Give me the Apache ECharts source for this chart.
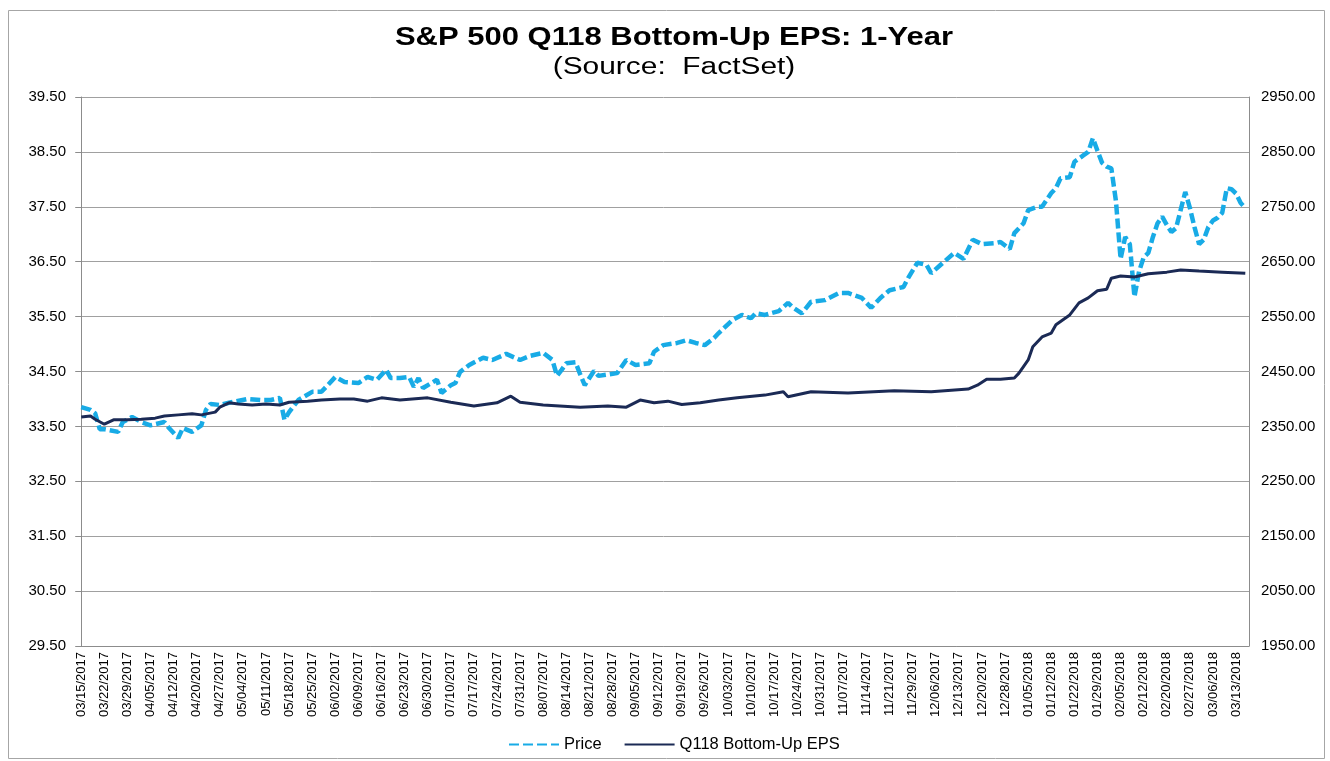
<!DOCTYPE html>
<html>
<head>
<meta charset="utf-8">
<title>S&P 500 Q118 Bottom-Up EPS: 1-Year</title>
<script src="https://cdn.jsdelivr.net/npm/echarts@6/dist/echarts.min.js"></script>
<style>
    html, body { margin: 0; padding: 0; background: #fff; }
    #chart { width: 1330px; height: 761px; }
</style>
</head>
<body>
<div id="chart"></div>
<script>
// x axis labels: every 5th trading day
const weekLabels = [
    '03/15/2017', '03/22/2017', '03/29/2017', '04/05/2017', '04/12/2017', '04/20/2017', '04/27/2017',
    '05/04/2017', '05/11/2017', '05/18/2017', '05/25/2017', '06/02/2017', '06/09/2017', '06/16/2017',
    '06/23/2017', '06/30/2017', '07/10/2017', '07/17/2017', '07/24/2017', '07/31/2017', '08/07/2017',
    '08/14/2017', '08/21/2017', '08/28/2017', '09/05/2017', '09/12/2017', '09/19/2017', '09/26/2017',
    '10/03/2017', '10/10/2017', '10/17/2017', '10/24/2017', '10/31/2017', '11/07/2017', '11/14/2017',
    '11/21/2017', '11/29/2017', '12/06/2017', '12/13/2017', '12/20/2017', '12/28/2017', '01/05/2018',
    '01/12/2018', '01/22/2018', '01/29/2018', '02/05/2018', '02/12/2018', '02/20/2018', '02/27/2018',
    '03/06/2018', '03/13/2018'
];

// tick values for both y axes
const epsTicks = [29.5, 30.5, 31.5, 32.5, 33.5, 34.5, 35.5, 36.5, 37.5, 38.5, 39.5];
const priceTicks = [1950, 2050, 2150, 2250, 2350, 2450, 2550, 2650, 2750, 2850, 2950];

// price (right axis): trading day index -> value
const priceDays = [
    0, 2, 3, 4, 5, 8, 9, 11, 13, 15, 18, 19, 21, 22, 24, 26, 27, 28, 30, 32, 36, 39, 41, 43, 44,
    45, 47, 50, 52, 55, 57, 60, 62, 64, 66, 67, 69, 71, 72, 73, 74, 77, 78, 80, 81, 82, 84, 87,
    89, 92, 95, 97, 100, 102, 103, 104, 105, 107, 108, 109, 111, 112, 116, 118, 120, 123, 124,
    126, 129, 131, 133, 135, 137, 138, 141, 143, 145, 146, 148, 151, 153, 154, 156, 158, 161,
    164, 166, 169, 171, 173, 175, 178, 179, 181, 183, 184, 186, 189, 191, 193, 195, 198, 199,
    201, 202, 204, 205, 207, 208, 210, 211, 212, 214, 215, 217, 218, 219, 220, 221, 222, 223,
    224, 225, 226, 227, 228, 229, 230, 231, 232, 233, 234, 235, 236, 237, 238, 239, 240, 241,
    242, 243, 244, 245, 246, 247, 248, 249, 250, 251, 252
];
const priceValues = [
    2385, 2380, 2374, 2345, 2345, 2340, 2358, 2367, 2358, 2352, 2358, 2347, 2329, 2347, 2340,
    2352, 2380, 2391, 2389, 2393, 2400, 2398, 2398, 2402, 2362, 2376, 2398, 2413, 2413, 2440,
    2431, 2429, 2440, 2435, 2453, 2438, 2438, 2440, 2422, 2438, 2420, 2435, 2411, 2425, 2429,
    2449, 2462, 2475, 2471, 2482, 2471, 2478, 2484, 2471, 2442, 2453, 2465, 2467, 2445, 2425,
    2451, 2442, 2447, 2471, 2462, 2465, 2486, 2498, 2502, 2507, 2502, 2498, 2511, 2520, 2544,
    2553, 2547, 2556, 2553, 2560, 2575, 2567, 2556, 2577, 2580, 2593, 2593, 2584, 2566, 2584,
    2598, 2604, 2620, 2648, 2644, 2629, 2644, 2666, 2655, 2690, 2682, 2684, 2686, 2673, 2702,
    2720, 2744, 2750, 2750, 2775, 2784, 2802, 2804, 2832, 2844, 2850, 2875, 2852, 2830, 2823,
    2820, 2760, 2655, 2695, 2682, 2586, 2632, 2658, 2666, 2695, 2720, 2732, 2717, 2704, 2711,
    2744, 2777, 2748, 2713, 2682, 2690, 2713, 2725, 2730, 2739, 2784, 2782, 2774, 2757, 2748
];

// Q118 bottom-up EPS (left axis): trading day index -> value
const epsDays = [
    0, 2, 3, 5, 7, 10, 13, 16, 18, 21, 24, 26, 29, 30, 32, 34, 37, 40, 43, 45, 49, 52, 56, 59,
    62, 65, 69, 75, 80, 85, 90, 93, 95, 100, 108, 114, 118, 121, 124, 127, 130, 134, 138, 142,
    148, 152, 153, 158, 166, 176, 184, 192, 194, 196, 199, 202, 203, 205, 206, 208, 210, 211,
    214, 216, 218, 220, 222, 223, 225, 228, 231, 235, 238, 242, 247, 252
];
const epsValues = [
    33.67, 33.69, 33.63, 33.54, 33.62, 33.62, 33.63, 33.65, 33.69, 33.71, 33.73, 33.71, 33.76,
    33.85, 33.93, 33.91, 33.89, 33.91, 33.89, 33.94, 33.96, 33.98, 34.00, 34.00, 33.96, 34.02,
    33.98, 34.02, 33.94, 33.87, 33.93, 34.05, 33.94, 33.89, 33.85, 33.87, 33.85, 33.98, 33.93,
    33.96, 33.90, 33.93, 33.98, 34.02, 34.07, 34.13, 34.04, 34.13, 34.11, 34.15, 34.13, 34.18,
    34.25, 34.36, 34.36, 34.38, 34.47, 34.71, 34.95, 35.13, 35.20, 35.35, 35.53, 35.75, 35.84,
    35.97, 36.00, 36.20, 36.24, 36.22, 36.28, 36.31, 36.35, 36.33, 36.31, 36.29
];

const priceData = priceDays.map((d, i) => [d, priceValues[i]]);
const epsData = epsDays.map((d, i) => [d, epsValues[i]]);
const labelDays = weekLabels.map((_, i) => i * 5);

const chart = echarts.init(document.getElementById('chart'));

const option = {
    backgroundColor: '#fff',
    animation: false,
    textStyle: { fontFamily: 'Liberation Sans, Arial, sans-serif', color: '#000' },
    graphic: [
        {
            type: 'rect',
            shape: { x: 8.5, y: 10.5, width: 1316, height: 748 },
            style: { fill: 'none', stroke: '#a6a6a6', lineWidth: 1 },
            silent: true
        },
        // title drawn as text stretched a bit wider, like the original
        {
            type: 'text',
            x: 674,
            y: 26,
            scaleX: 1.24,
            style: {
                text: 'S&P 500 Q118 Bottom-Up EPS: 1-Year',
                textAlign: 'center',
                textVerticalAlign: 'top',
                font: 'bold 25px "Liberation Sans", Arial',
                fill: '#000'
            }
        },
        {
            type: 'text',
            x: 674,
            y: 56,
            scaleX: 1.3,
            style: {
                text: '(Source:  FactSet)',
                textAlign: 'center',
                textVerticalAlign: 'top',
                font: '23px "Liberation Sans", Arial',
                fill: '#000'
            }
        }
    ],
    legend: {
        bottom: 3,
        left: 503,
        itemWidth: 50,
        itemHeight: 4,
        itemGap: 22,
        itemStyle: { opacity: 0 },
        textStyle: { fontSize: 16.5, color: '#000' },
        data: ['Price', 'Q118 Bottom-Up EPS']
    },
    grid: { left: 78, right: 81, top: 97, bottom: 115 },
    xAxis: {
        type: 'value',
        min: -0.7,
        max: 252.8,
        splitLine: { show: false },
        axisLine: { show: true, onZero: false, lineStyle: { color: '#8c8c8c', width: 1 } },
        axisTick: { show: false },
        axisLabel: {
            customValues: labelDays,
            rotate: 90,
            fontSize: 13,
            color: '#000',
            margin: 6,
            formatter: v => weekLabels[Math.round(v / 5)]
        }
    },
    yAxis: [
        {
            type: 'value',
            min: 29.5,
            max: 39.5,
            position: 'left',
            axisLine: { show: true, lineStyle: { color: '#8c8c8c' } },
            axisTick: { show: true, inside: false, length: 6, customValues: epsTicks, lineStyle: { color: '#8c8c8c' } },
            axisLabel: {
                customValues: epsTicks,
                fontSize: 15,
                color: '#000',
                margin: 12,
                formatter: v => v.toFixed(2)
            },
            splitLine: { show: true, lineStyle: { color: '#a0a0a0', width: 1 } }
        },
        {
            type: 'value',
            min: 1950,
            max: 2950,
            position: 'right',
            axisLine: { show: true, lineStyle: { color: '#8c8c8c' } },
            axisTick: { show: false, customValues: priceTicks },
            axisLabel: {
                customValues: priceTicks,
                fontSize: 15,
                color: '#000',
                margin: 12,
                formatter: v => v.toFixed(2)
            },
            splitLine: { show: false }
        }
    ],
    series: [
        {
            name: 'Price',
            type: 'line',
            yAxisIndex: 1,
            data: priceData,
            symbol: 'none',
            color: '#18abe6',
            lineStyle: { color: '#18abe6', width: 4.5, type: [10, 4] },
            z: 3
        },
        {
            name: 'Q118 Bottom-Up EPS',
            type: 'line',
            yAxisIndex: 0,
            data: epsData,
            symbol: 'none',
            color: '#1b2a55',
            lineStyle: { color: '#1b2a55', width: 3 },
            z: 4
        }
    ]
};

chart.setOption(option);
</script>
</body>
</html>
